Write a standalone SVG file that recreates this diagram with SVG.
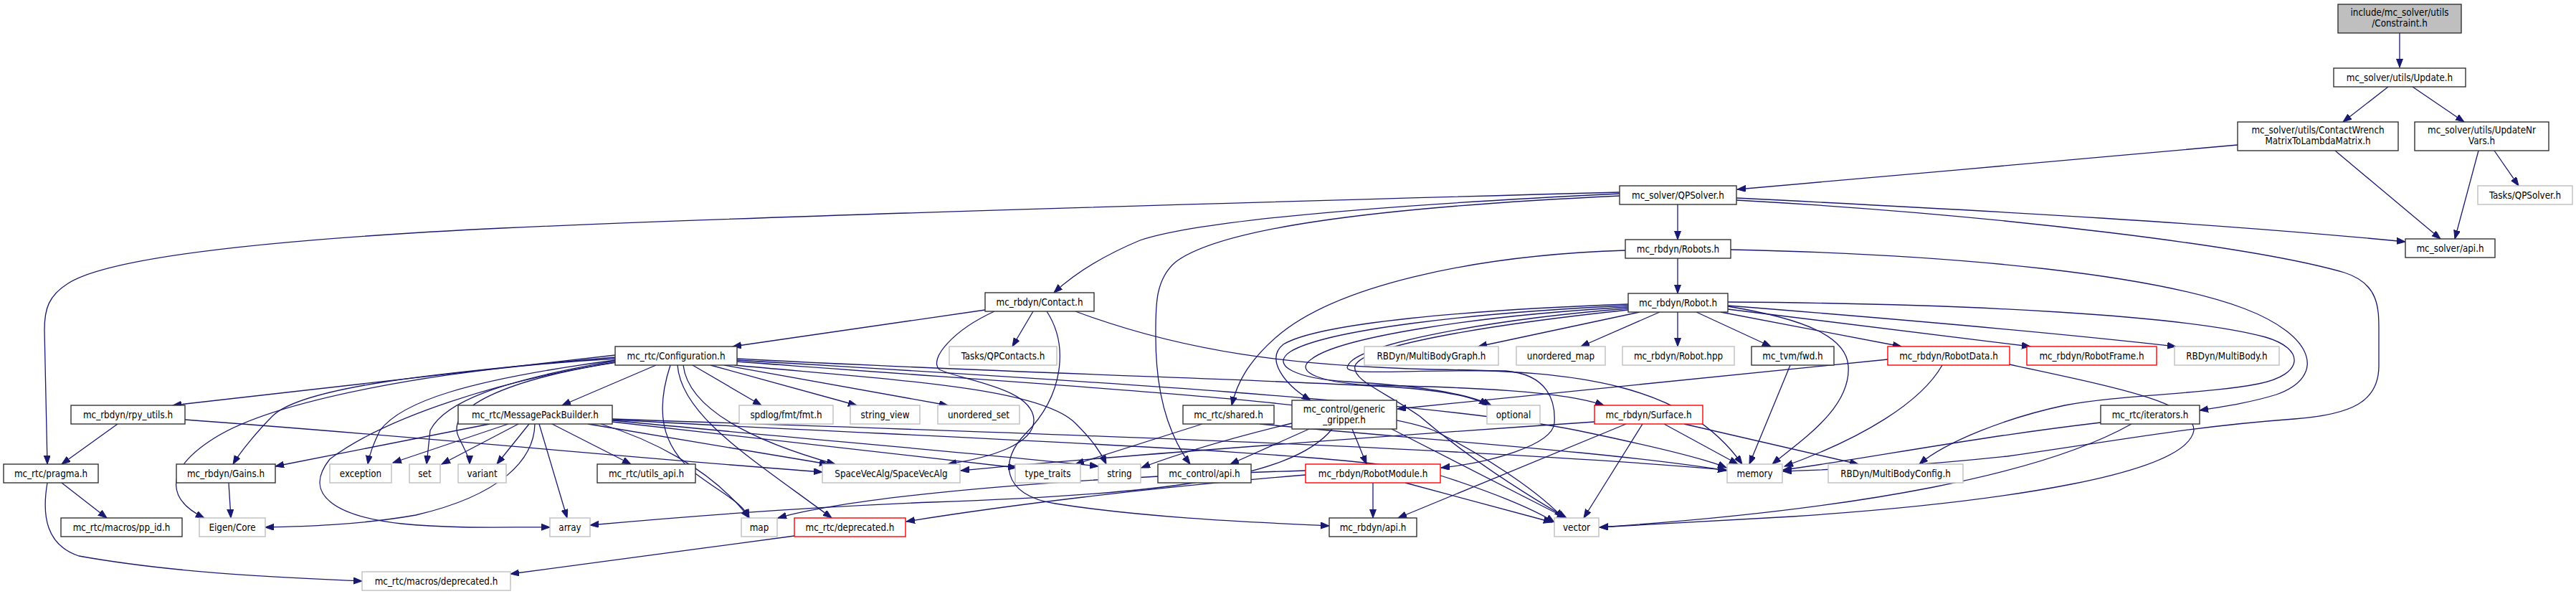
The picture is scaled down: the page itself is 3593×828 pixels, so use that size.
<svg xmlns="http://www.w3.org/2000/svg" width="3593" height="828" viewBox="0 0 3593 828">
<style>
rect{stroke-width:1.4}
.n{fill:#fff;stroke:#333}
.g{fill:#fff;stroke:#bfbfbf}
.r{fill:#fff;stroke:#ff0000}
.root{fill:#bfbfbf;stroke:#333}
text{font-family:"DejaVu Sans Condensed","DejaVu Sans",sans-serif;font-stretch:condensed;font-size:13.3px;fill:#000;text-anchor:middle}
.e{fill:none;stroke:#191970;stroke-width:1.3}
</style>
<defs>
<marker id="a" markerUnits="userSpaceOnUse" markerWidth="13" markerHeight="10" refX="12" refY="4.5" orient="auto"><path d="M0,0 L12,4.5 L0,9 z" fill="#191970" stroke="#191970" stroke-width="1"/></marker>
</defs>
<rect width="3593" height="828" fill="#fff"/>
<g id="edges" marker-end="url(#a)">
<path class="e" d="M3347,46 L3347,94"/>
<path class="e" d="M3331,121 L3268,170"/>
<path class="e" d="M3365,121 L3437,170"/>
<path class="e" d="M3121,202 C2900,222 2650,244 2423,264"/>
<path class="e" d="M3257,210 L3404,333"/>
<path class="e" d="M3479,210 L3513,259"/>
<path class="e" d="M3457,210 L3424,333"/>
<path class="e" d="M2340,285 L2340,334"/>
<path class="e" d="M2422,276 C2800,295 3100,312 3355,337"/>
<path class="e" d="M2422,279 C2800,300 3150,345 3270,380 C3318,395 3318,430 3318,460 L3318,510 C3318,560 3280,578 3200,584 C3050,595 2950,615 2800,636 C2650,652 2560,654 2487,657"/>
<path class="e" d="M2259,270 C1950,285 1680,305 1590,335 C1530,360 1495,385 1470,408"/>
<path class="e" d="M2259,273 C1900,290 1700,320 1640,365 C1610,390 1612,430 1612,470 C1612,540 1625,600 1660,647"/>
<path class="e" d="M2259,268 C1700,283 1100,300 700,318 C350,335 150,360 95,395 C68,412 62,430 62,460 L66,647"/>
<path class="e" d="M2340,360 L2340,409"/>
<path class="e" d="M2267,349 C2050,356 1860,400 1780,470 C1740,505 1725,535 1718,565"/>
<path class="e" d="M2414,348 C2750,355 3010,385 3130,430 C3230,468 3245,525 3175,550 C3140,561 3100,567 3068,572"/>
<path class="e" d="M2287,435 L2062,483"/>
<path class="e" d="M2315,435 L2205,483"/>
<path class="e" d="M2340,435 L2340,483"/>
<path class="e" d="M2366,435 L2470,483"/>
<path class="e" d="M2400,435 L2652,483"/>
<path class="e" d="M2410,431 L2832,483"/>
<path class="e" d="M2410,426 C2650,445 2850,462 3035,483"/>
<path class="e" d="M2410,421 C2750,423 3050,440 3160,470 C3215,486 3215,522 3150,535 C3080,549 2960,550 2880,565 C2800,582 2715,615 2677,647"/>
<path class="e" d="M2410,427 C2520,445 2575,470 2578,510 C2582,570 2510,615 2472,647"/>
<path class="e" d="M2271,424 C2050,432 1840,450 1790,480 C1765,500 1790,535 1828,558"/>
<path class="e" d="M2271,426 C2050,436 1850,460 1800,490 C1770,510 1810,528 1880,532 C1960,537 2040,545 2080,565"/>
<path class="e" d="M2271,428 C2060,440 1870,470 1830,500 C1800,520 1850,535 1920,537 C2050,540 2180,545 2237,565"/>
<path class="e" d="M2271,430 C2080,445 1890,480 1880,510 C1870,525 1950,515 2100,517 C2160,522 2170,560 2168,590 C2165,620 2080,645 2010,652"/>
<path class="e" d="M2271,432 C2100,450 1900,480 1890,510 C1885,530 1930,545 1980,580 C2050,640 2130,690 2185,722"/>
<path class="e" d="M1374,432 L1022,483"/>
<path class="e" d="M1441,434 L1412,483"/>
<path class="e" d="M1387,434 C1330,460 1295,500 1310,515 C1340,530 1440,540 1442,585 C1443,620 1380,638 1322,647"/>
<path class="e" d="M1460,434 C1490,480 1485,550 1430,605 C1395,640 1395,690 1472,702 C1600,722 1750,728 1854,733"/>
<path class="e" d="M1500,434 C1650,490 1800,510 2000,515 C2200,517 2350,535 2430,647"/>
<path class="e" d="M858,495 L241,565"/>
<path class="e" d="M915,509 L784,565"/>
<path class="e" d="M858,498 C600,520 420,540 380,580 C360,600 335,630 325,647"/>
<path class="e" d="M858,500 C600,515 380,560 300,610 C220,660 240,700 285,722"/>
<path class="e" d="M858,502 C650,530 560,560 530,600 C520,620 515,635 513,647"/>
<path class="e" d="M858,503 C700,530 620,560 600,600 L595,647"/>
<path class="e" d="M860,505 C700,530 620,570 640,610 C650,630 655,640 655,647"/>
<path class="e" d="M858,505 C700,530 540,580 460,640 C420,690 470,720 560,730 C640,738 720,734 767,735"/>
<path class="e" d="M966,509 L1062,565"/>
<path class="e" d="M991,509 L1195,565"/>
<path class="e" d="M1010,509 L1322,565"/>
<path class="e" d="M1024,509 C1250,530 1450,540 1500,590 C1525,615 1535,630 1543,647"/>
<path class="e" d="M953,509 C960,570 1050,615 1165,647"/>
<path class="e" d="M935,509 C915,570 920,620 970,660 C1010,690 1035,700 1045,722"/>
<path class="e" d="M945,509 C950,580 1050,640 1160,722"/>
<path class="e" d="M1028,500 C1400,520 1800,530 1950,540 C2020,545 2060,555 2075,565"/>
<path class="e" d="M1028,502 C1500,530 2000,560 2200,600 C2320,625 2380,640 2408,652"/>
<path class="e" d="M1028,504 C1500,540 1900,560 2000,600 C2100,650 2160,700 2180,722"/>
<path class="e" d="M683,591 L384,650"/>
<path class="e" d="M709,591 L548,645"/>
<path class="e" d="M723,591 L616,647"/>
<path class="e" d="M738,591 L693,647"/>
<path class="e" d="M746,591 C745,640 700,690 580,718 C500,732 420,734 370,735"/>
<path class="e" d="M752,591 L791,722"/>
<path class="e" d="M770,591 L880,647"/>
<path class="e" d="M820,591 L1155,647"/>
<path class="e" d="M854,588 L1418,652"/>
<path class="e" d="M854,586 C1100,610 1400,635 1532,650"/>
<path class="e" d="M838,591 C900,610 990,650 1045,722"/>
<path class="e" d="M854,584 C1300,600 2000,620 2408,655"/>
<path class="e" d="M854,585 C1300,610 1900,630 2000,660 C2080,685 2140,710 2168,728"/>
<path class="e" d="M164,591 L86,647"/>
<path class="e" d="M258,585 C600,610 900,640 1147,658"/>
<path class="e" d="M86,673 L149,722"/>
<path class="e" d="M66,673 C58,720 65,760 110,775 C250,800 400,805 505,810"/>
<path class="e" d="M319,673 L322,722"/>
<path class="e" d="M1108,747 L712,800"/>
<path class="e" d="M1677,591 L1500,647"/>
<path class="e" d="M1757,591 C1950,610 2250,630 2408,656"/>
<path class="e" d="M1826,598 L1716,647"/>
<path class="e" d="M1886,598 L1906,647"/>
<path class="e" d="M1941,598 L2184,722"/>
<path class="e" d="M1802,590 C1720,610 1650,630 1592,652"/>
<path class="e" d="M1858,598 C1800,670 1600,690 1300,700 C1100,708 900,725 823,732"/>
<path class="e" d="M1915,673 L1915,722"/>
<path class="e" d="M1960,673 L2165,728"/>
<path class="e" d="M1821,662 C1600,680 1400,705 1264,727"/>
<path class="e" d="M1821,656 C1500,665 1200,690 1085,722"/>
<path class="e" d="M2224,588 C1900,610 1500,640 1340,656"/>
<path class="e" d="M2321,591 L2424,647"/>
<path class="e" d="M2291,591 L2209,722"/>
<path class="e" d="M2268,591 L1950,722"/>
<path class="e" d="M2349,591 L2592,647"/>
<path class="e" d="M2633,501 C2300,535 2100,555 1949,570"/>
<path class="e" d="M2709,509 C2680,560 2600,610 2489,650"/>
<path class="e" d="M2803,508 C2950,540 3060,560 3060,600 C3050,660 2800,700 2500,720 C2350,728 2280,733 2231,735"/>
<path class="e" d="M2930,589 C2750,610 2600,640 2487,655"/>
<path class="e" d="M2973,591 C2850,660 2600,710 2231,735"/>
<path class="e" d="M2497,509 L2440,647"/>
</g>
<g id="n1"><rect class="root" x="3261" y="6" width="172" height="40"/><text x="3347" y="22">include/mc_solver/utils</text><text x="3347" y="37">/Constraint.h</text></g>
<g id="n2"><rect class="n" x="3255" y="95" width="184" height="26"/><text x="3347" y="112.5">mc_solver/utils/Update.h</text></g>
<g id="n3"><rect class="n" x="3121" y="170" width="224" height="40"/><text x="3233" y="186">mc_solver/utils/ContactWrench</text><text x="3233" y="201">MatrixToLambdaMatrix.h</text></g>
<g id="n4"><rect class="n" x="3368" y="170" width="187" height="40"/><text x="3461.5" y="186">mc_solver/utils/UpdateNr</text><text x="3461.5" y="201">Vars.h</text></g>
<g id="n5"><rect class="g" x="3456" y="259" width="132" height="26"/><text x="3522" y="276.5">Tasks/QPSolver.h</text></g>
<g id="n6"><rect class="n" x="2259" y="259" width="163" height="26"/><text x="2340.5" y="276.5">mc_solver/QPSolver.h</text></g>
<g id="n7"><rect class="n" x="3355" y="333" width="125" height="26"/><text x="3417.5" y="350.5">mc_solver/api.h</text></g>
<g id="n8"><rect class="n" x="2267" y="334" width="147" height="26"/><text x="2340.5" y="351.5">mc_rbdyn/Robots.h</text></g>
<g id="n9"><rect class="n" x="1374" y="408" width="152" height="26"/><text x="1450" y="425.5">mc_rbdyn/Contact.h</text></g>
<g id="n10"><rect class="n" x="2271" y="409" width="139" height="26"/><text x="2340.5" y="426.5">mc_rbdyn/Robot.h</text></g>
<g id="n11"><rect class="n" x="858" y="483" width="170" height="26"/><text x="943" y="500.5">mc_rtc/Configuration.h</text></g>
<g id="n12"><rect class="g" x="1324" y="483" width="150" height="26"/><text x="1399" y="500.5">Tasks/QPContacts.h</text></g>
<g id="n13"><rect class="g" x="1903" y="483" width="187" height="26"/><text x="1996.5" y="500.5">RBDyn/MultiBodyGraph.h</text></g>
<g id="n14"><rect class="g" x="2115" y="483" width="124" height="26"/><text x="2177" y="500.5">unordered_map</text></g>
<g id="n15"><rect class="g" x="2263" y="483" width="156" height="26"/><text x="2341" y="500.5">mc_rbdyn/Robot.hpp</text></g>
<g id="n16"><rect class="n" x="2443" y="483" width="115" height="26"/><text x="2500.5" y="500.5">mc_tvm/fwd.h</text></g>
<g id="n17"><rect class="r" x="2633" y="483" width="170" height="26"/><text x="2718" y="500.5">mc_rbdyn/RobotData.h</text></g>
<g id="n18"><rect class="r" x="2827" y="483" width="181" height="26"/><text x="2917.5" y="500.5">mc_rbdyn/RobotFrame.h</text></g>
<g id="n19"><rect class="g" x="3033" y="483" width="146" height="26"/><text x="3106" y="500.5">RBDyn/MultiBody.h</text></g>
<g id="n20"><rect class="n" x="99" y="565" width="159" height="26"/><text x="178.5" y="582.5">mc_rbdyn/rpy_utils.h</text></g>
<g id="n21"><rect class="n" x="639" y="565" width="215" height="26"/><text x="746.5" y="582.5">mc_rtc/MessagePackBuilder.h</text></g>
<g id="n22"><rect class="g" x="1031" y="565" width="131" height="26"/><text x="1096.5" y="582.5">spdlog/fmt/fmt.h</text></g>
<g id="n23"><rect class="g" x="1186" y="565" width="97" height="26"/><text x="1234.5" y="582.5">string_view</text></g>
<g id="n24"><rect class="g" x="1308" y="565" width="114" height="26"/><text x="1365" y="582.5">unordered_set</text></g>
<g id="n25"><rect class="n" x="1650" y="565" width="127" height="26"/><text x="1713.5" y="582.5">mc_rtc/shared.h</text></g>
<g id="n26"><rect class="n" x="1802" y="558" width="146" height="40"/><text x="1875" y="574.5">mc_control/generic</text><text x="1875" y="589.5">_gripper.h</text></g>
<g id="n27"><rect class="g" x="2074" y="565" width="74" height="26"/><text x="2111" y="582.5">optional</text></g>
<g id="n28"><rect class="r" x="2224" y="565" width="151" height="26"/><text x="2299.5" y="582.5">mc_rbdyn/Surface.h</text></g>
<g id="n29"><rect class="n" x="2930" y="565" width="138" height="26"/><text x="2999" y="582.5">mc_rtc/iterators.h</text></g>
<g id="n30"><rect class="n" x="5" y="647" width="132" height="26"/><text x="71" y="664.5">mc_rtc/pragma.h</text></g>
<g id="n31"><rect class="n" x="246" y="647" width="138" height="26"/><text x="315" y="664.5">mc_rbdyn/Gains.h</text></g>
<g id="n32"><rect class="g" x="460" y="647" width="86" height="26"/><text x="503" y="664.5">exception</text></g>
<g id="n33"><rect class="g" x="571" y="647" width="43" height="26"/><text x="592.5" y="664.5">set</text></g>
<g id="n34"><rect class="g" x="639" y="647" width="67" height="26"/><text x="672.5" y="664.5">variant</text></g>
<g id="n35"><rect class="n" x="833" y="647" width="137" height="26"/><text x="901.5" y="664.5">mc_rtc/utils_api.h</text></g>
<g id="n36"><rect class="g" x="1147" y="647" width="192" height="26"/><text x="1243" y="664.5">SpaceVecAlg/SpaceVecAlg</text></g>
<g id="n37"><rect class="g" x="1416" y="647" width="91" height="26"/><text x="1461.5" y="664.5">type_traits</text></g>
<g id="n38"><rect class="g" x="1532" y="647" width="59" height="26"/><text x="1561.5" y="664.5">string</text></g>
<g id="n39"><rect class="n" x="1615" y="647" width="130" height="26"/><text x="1680" y="664.5">mc_control/api.h</text></g>
<g id="n40"><rect class="r" x="1821" y="647" width="188" height="26"/><text x="1915" y="664.5">mc_rbdyn/RobotModule.h</text></g>
<g id="n41"><rect class="g" x="2409" y="647" width="77" height="26"/><text x="2447.5" y="664.5">memory</text></g>
<g id="n42"><rect class="g" x="2550" y="647" width="188" height="26"/><text x="2644" y="664.5">RBDyn/MultiBodyConfig.h</text></g>
<g id="n43"><rect class="n" x="85" y="722" width="169" height="26"/><text x="169.5" y="739.5">mc_rtc/macros/pp_id.h</text></g>
<g id="n44"><rect class="g" x="278" y="722" width="92" height="26"/><text x="324" y="739.5">Eigen/Core</text></g>
<g id="n45"><rect class="g" x="767" y="722" width="56" height="26"/><text x="795" y="739.5">array</text></g>
<g id="n46"><rect class="g" x="1034" y="722" width="50" height="26"/><text x="1059" y="739.5">map</text></g>
<g id="n47"><rect class="r" x="1108" y="722" width="155" height="26"/><text x="1185.5" y="739.5">mc_rtc/deprecated.h</text></g>
<g id="n48"><rect class="n" x="1854" y="722" width="122" height="26"/><text x="1915" y="739.5">mc_rbdyn/api.h</text></g>
<g id="n49"><rect class="g" x="2168" y="722" width="62" height="26"/><text x="2199" y="739.5">vector</text></g>
<g id="n50"><rect class="g" x="505" y="797" width="207" height="26"/><text x="608.5" y="814.5">mc_rtc/macros/deprecated.h</text></g>
</svg>
